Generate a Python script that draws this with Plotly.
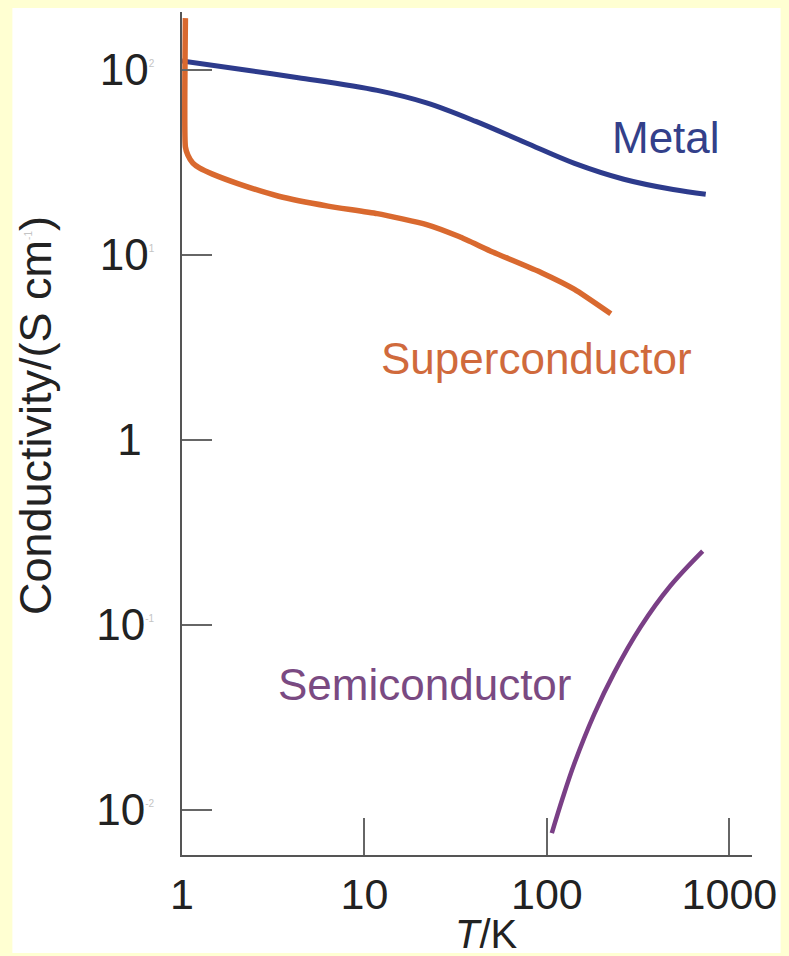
import plotly.graph_objects as go

# --- data (log-log axes) ---
metal_T = [1.0, 2.33, 4.34, 11.76, 21.9, 40.8, 76, 141.7, 264, 492, 742]
metal_sigma = [111.9, 99.4, 91.0, 77.7, 66.5, 52.8, 40.6, 31.3, 25.7, 22.6, 21.3]

super_T = [1.044, 1.044, 1.077, 1.147, 1.251, 1.47, 2.06, 3.39, 6.31, 11.76, 21.9, 33.0, 50.4, 94, 141.7, 224]
super_sigma = [191, 38.4, 34.7, 31.4, 29.5, 27.4, 24.2, 20.8, 18.4, 16.76, 14.62, 12.59, 10.4, 8.01, 6.53, 4.82]

semi_T = [106.4, 122, 141.7, 181.7, 233.2, 326, 474, 714]
semi_sigma = [0.00751, 0.01161, 0.01795, 0.0330, 0.0550, 0.0976, 0.1625, 0.251]

x_ticks = [1, 10, 100, 1000]
x_ticktext = ["1", "10", "100", "1000"]
y_ticks = [0.01, 0.1, 1, 10, 100]
sup = "<sup><span style='font-size:10px;color:#c4c4c4'>%s</span></sup>"
y_ticktext = ["10" + sup % "-2", "10" + sup % "-1",
              "1<span style='color:rgba(0,0,0,0)'>&#8201;&#8202;</span>",
              "10" + sup % "1", "10" + sup % "2"]

W, H = 789, 956
L, R, T, B = 182, 760, 12, 855   # plot area in pixels


def px(x):
    return (x - L) / (R - L)


def py(y):
    return (B - y) / (B - T)


FONT = "Liberation Sans, Arial, sans-serif"
BLUE = "#2d3b8c"
ORANGE = "#d9692f"
PURPLE = "#7a3f86"

fig = go.Figure()
fig.add_trace(go.Scatter(x=metal_T, y=metal_sigma, mode="lines", name="Metal",
                         line=dict(color=BLUE, width=5, shape="spline", smoothing=1)))
fig.add_trace(go.Scatter(x=super_T, y=super_sigma, mode="lines", name="Superconductor",
                         line=dict(color=ORANGE, width=5.5, shape="spline", smoothing=0.5)))
fig.add_trace(go.Scatter(x=semi_T, y=semi_sigma, mode="lines", name="Semiconductor",
                         line=dict(color=PURPLE, width=4.5, shape="spline", smoothing=1)))

# white card on the yellow page
fig.add_shape(type="rect", xref="paper", yref="paper",
              x0=px(10), x1=px(789), y0=py(953), y1=py(8),
              fillcolor="white", line=dict(width=0), layer="below")


def label(text, x, y, size, color, angle=0):
    fig.add_annotation(text=text, x=px(x), y=py(y), xref="paper", yref="paper",
                       xanchor="center", yanchor="middle", textangle=angle,
                       showarrow=False, font=dict(family=FONT, size=size, color=color))


label("Metal", 673, 138, 44, "#33408a")
label("Superconductor", 541, 358, 44, "#d06a3c")
label("Semiconductor", 428, 684, 44, "#7a4a82")
label("<i>T</i>/K", 491, 934, 40, "#222222")
label("Conductivity/(S cm<sup><span style='font-size:10px;color:#c4c4c4'>-1</span></sup>)",
      33, 416, 45, "#222222", angle=-90)

fig.update_xaxes(type="log", range=[0, 3.124], tickvals=x_ticks, ticktext=x_ticktext,
                 ticks="inside", ticklen=37, tickwidth=2, tickcolor="#666666",
                 showline=True, linecolor="#555555", linewidth=2, showgrid=False,
                 zeroline=False, ticklabelstandoff=0,
                 tickfont=dict(family=FONT, size=43, color="#222222"))
fig.update_yaxes(type="log", range=[-2.243, 2.314], tickvals=y_ticks, ticktext=y_ticktext,
                 ticks="inside", ticklen=30, tickwidth=2, tickcolor="#666666",
                 showline=True, linecolor="#555555", linewidth=2, showgrid=False,
                 zeroline=False, ticklabelstandoff=17,
                 tickfont=dict(family=FONT, size=44, color="#222222"))

fig.update_layout(width=W, height=H, margin=dict(l=L, r=W - R, t=T, b=H - B),
                  paper_bgcolor="#ffffd2", plot_bgcolor="white", showlegend=False)

fig.write_html("out.html", config={"displayModeBar": False},
               post_script="document.body.style.margin='0';")
